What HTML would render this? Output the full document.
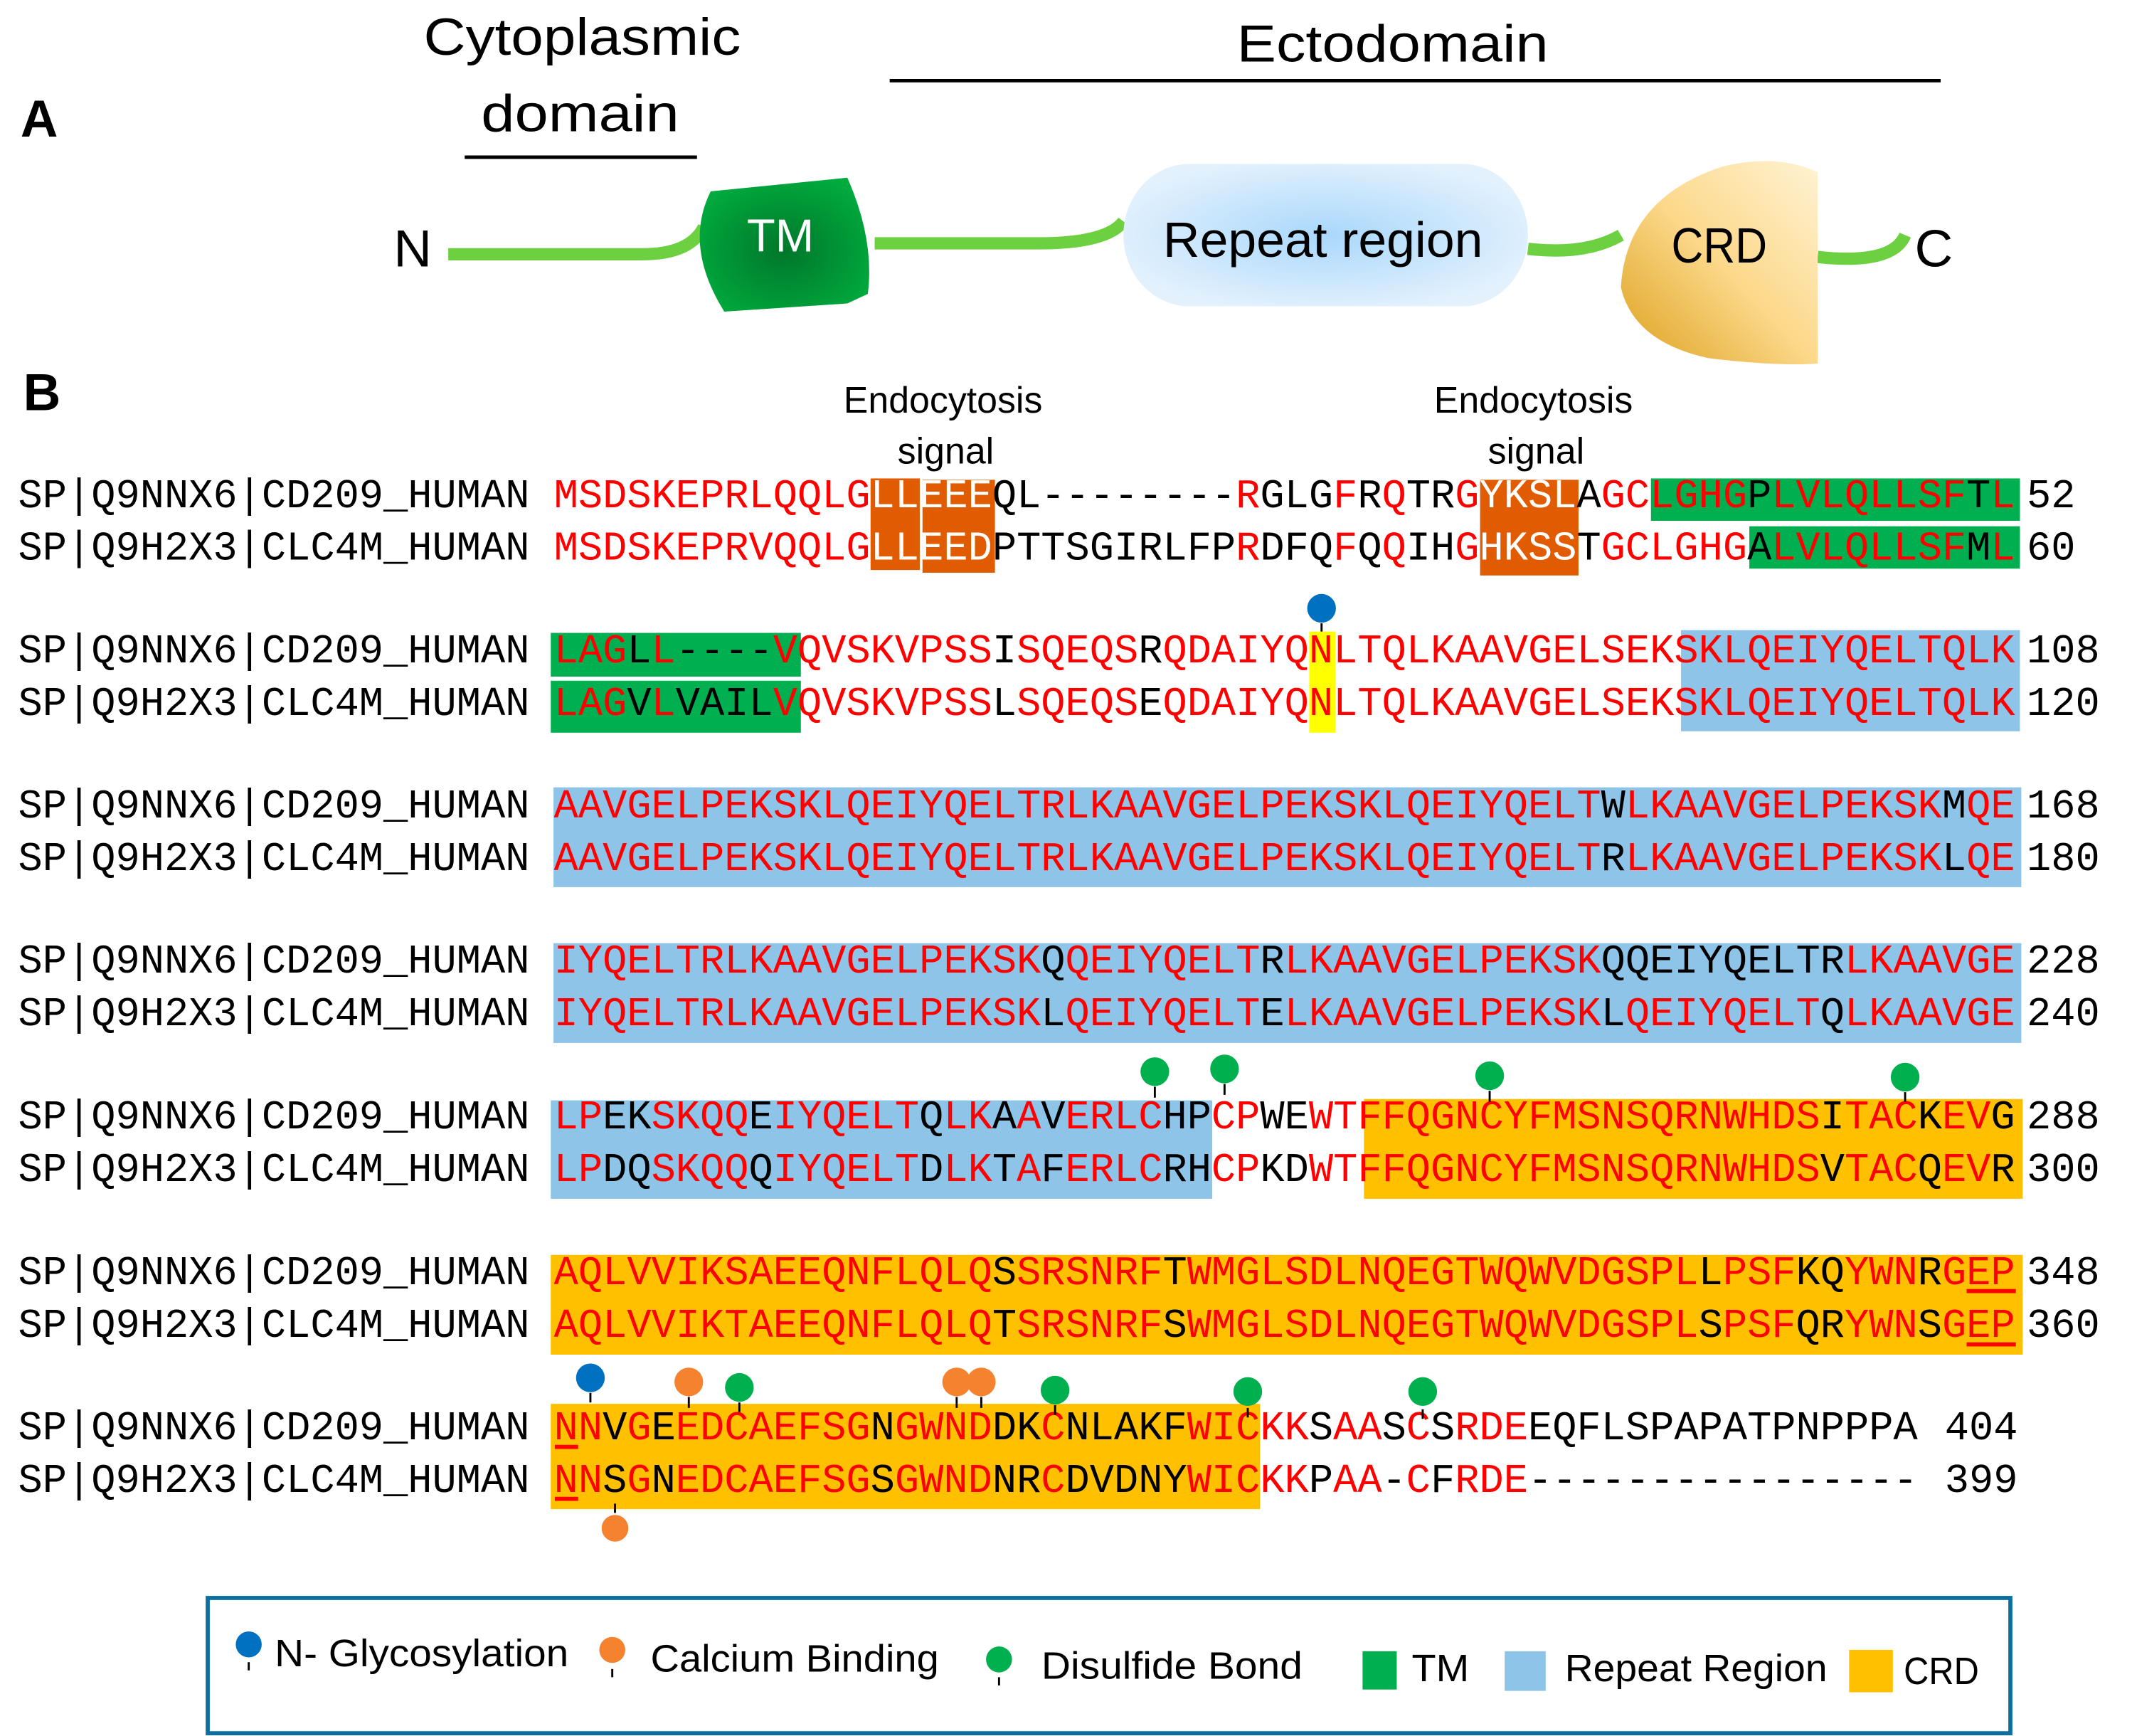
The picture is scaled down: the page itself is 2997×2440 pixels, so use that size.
<!DOCTYPE html>
<html><head><meta charset="utf-8"><style>
html,body{margin:0;padding:0;background:#fff;}
svg{display:block;}
.m{font-family:"Liberation Mono","DejaVu Sans Mono",monospace;font-size:29.7px;fill:#ff0000;}
.lb{font-family:"Liberation Mono","DejaVu Sans Mono",monospace;font-size:29.7px;fill:#000;}
.k{fill:#000;}
.w{fill:#fff;}
.s{font-family:"Liberation Sans",sans-serif;fill:#000;}
</style></head><body>
<svg width="2997" height="2440" viewBox="0 0 1560 1270" preserveAspectRatio="none" xmlns="http://www.w3.org/2000/svg">
<defs>
<radialGradient id="gTM" cx="0.5" cy="0.55" r="0.6"><stop offset="0" stop-color="#00772a"/><stop offset="1" stop-color="#00ab3e"/></radialGradient>
<radialGradient id="gRep" cx="0.5" cy="0.5" r="0.55"><stop offset="0" stop-color="#a9d8fb"/><stop offset="1" stop-color="#e3f1fd"/></radialGradient>
<linearGradient id="gCRD" x1="0" y1="1" x2="1" y2="0"><stop offset="0" stop-color="#dca01c"/><stop offset="0.5" stop-color="#fcd88a"/><stop offset="1" stop-color="#fff3d4"/></linearGradient>
</defs>

<!-- Part A -->
<text class="s" x="15" y="100" font-size="38" font-weight="bold">A</text>
<text class="s" x="310" y="40" font-size="38" textLength="232" lengthAdjust="spacingAndGlyphs">Cytoplasmic</text>
<text class="s" x="352" y="96" font-size="38" textLength="145" lengthAdjust="spacingAndGlyphs">domain</text>
<line x1="340" y1="115" x2="510" y2="115" stroke="#000" stroke-width="2.5"/>
<text class="s" x="905" y="45" font-size="38" textLength="228" lengthAdjust="spacingAndGlyphs">Ectodomain</text>
<line x1="651" y1="59" x2="1420" y2="59" stroke="#000" stroke-width="2.5"/>
<text class="s" x="288" y="195" font-size="38" textLength="28" lengthAdjust="spacingAndGlyphs">N</text>
<text class="s" x="1401" y="195" font-size="38" textLength="28" lengthAdjust="spacingAndGlyphs">C</text>
<!-- green linker lines -->
<path d="M328 186 L470 186 Q505 186 515 166" stroke="#6dd040" stroke-width="9" fill="none"/>
<path d="M640 178 L760 178 Q810 178 822 162" stroke="#6dd040" stroke-width="9" fill="none"/>
<path d="M1118 182 Q1160 187 1186 172" stroke="#6dd040" stroke-width="9" fill="none"/>
<path d="M1330 188 Q1385 194 1394 172" stroke="#6dd040" stroke-width="9" fill="none"/>
<!-- TM -->
<path d="M520 140 L620 130 Q640 175 635 215 L620 222 L530 228 Q500 180 520 140 Z" fill="url(#gTM)"/>
<text x="571" y="184" font-size="34" fill="#fff" font-family="Liberation Sans,sans-serif" text-anchor="middle">TM</text>
<!-- Repeat region -->
<rect x="822" y="120" width="296" height="104" rx="48" ry="52" fill="url(#gRep)"/>
<text class="s" x="968" y="188" font-size="36" text-anchor="middle" textLength="234" lengthAdjust="spacingAndGlyphs">Repeat region</text>
<!-- CRD -->
<path d="M1330 126 Q1300 112 1260 122 Q1190 145 1186 210 Q1195 250 1250 262 Q1300 268 1330 266 Z" fill="url(#gCRD)"/>
<text class="s" x="1258" y="192" font-size="36" text-anchor="middle" textLength="70" lengthAdjust="spacingAndGlyphs">CRD</text>

<!-- Part B -->
<text class="s" x="17" y="300" font-size="38" font-weight="bold">B</text>
<text class="s" x="690" y="302" font-size="27" text-anchor="middle">Endocytosis</text>
<text class="s" x="692" y="339" font-size="27" text-anchor="middle">signal</text>
<text class="s" x="1122" y="302" font-size="27" text-anchor="middle">Endocytosis</text>
<text class="s" x="1124" y="339" font-size="27" text-anchor="middle">signal</text>

<!-- highlight boxes -->
<rect x="637" y="350" width="36" height="67" fill="#e15b00"/>
<rect x="675" y="351" width="53" height="68" fill="#e15b00"/>
<rect x="1083" y="351" width="72" height="70" fill="#e15b00"/>
<rect x="1208" y="350" width="270" height="31" fill="#00b050"/>
<rect x="1280" y="385" width="198" height="31" fill="#00b050"/>

<rect x="403" y="463" width="183" height="32" fill="#00b050"/>
<rect x="403" y="498" width="183" height="38" fill="#00b050"/>
<rect x="1230" y="461" width="248" height="74" fill="#8dc4e8"/>
<rect x="958" y="462" width="19" height="74" fill="#ffff00"/>

<rect x="405" y="576" width="1074" height="73" fill="#8dc4e8"/>
<rect x="405" y="690" width="1074" height="73" fill="#8dc4e8"/>
<rect x="403" y="805" width="484" height="72" fill="#8dc4e8"/>
<rect x="998" y="804" width="482" height="73" fill="#ffc000"/>
<rect x="403" y="918" width="1077" height="73" fill="#ffc000"/>
<rect x="403" y="1027" width="519" height="77" fill="#ffc000"/>

<!-- labels -->
<g class="lb">
<text x="13.3" y="371">SP|Q9NNX6|CD209_HUMAN</text><text x="13.3" y="409.5">SP|Q9H2X3|CLC4M_HUMAN</text>
<text x="13.3" y="484.5">SP|Q9NNX6|CD209_HUMAN</text><text x="13.3" y="523">SP|Q9H2X3|CLC4M_HUMAN</text>
<text x="13.3" y="598">SP|Q9NNX6|CD209_HUMAN</text><text x="13.3" y="636.5">SP|Q9H2X3|CLC4M_HUMAN</text>
<text x="13.3" y="711.5">SP|Q9NNX6|CD209_HUMAN</text><text x="13.3" y="750">SP|Q9H2X3|CLC4M_HUMAN</text>
<text x="13.3" y="825.5">SP|Q9NNX6|CD209_HUMAN</text><text x="13.3" y="864">SP|Q9H2X3|CLC4M_HUMAN</text>
<text x="13.3" y="939.5">SP|Q9NNX6|CD209_HUMAN</text><text x="13.3" y="978">SP|Q9H2X3|CLC4M_HUMAN</text>
<text x="13.3" y="1053">SP|Q9NNX6|CD209_HUMAN</text><text x="13.3" y="1091.5">SP|Q9H2X3|CLC4M_HUMAN</text>
<text x="1483" y="371">52</text><text x="1483" y="409.5">60</text>
<text x="1483" y="484.5">108</text><text x="1483" y="523">120</text>
<text x="1483" y="598">168</text><text x="1483" y="636.5">180</text>
<text x="1483" y="711.5">228</text><text x="1483" y="750">240</text>
<text x="1483" y="825.5">288</text><text x="1483" y="864">300</text>
<text x="1483" y="939.5">348</text><text x="1483" y="978">360</text>
<text x="1423" y="1053">404</text><text x="1423" y="1091.5">399</text>
</g>

<!-- sequences -->
<g class="m">
<text x="405.3" y="371">MSDSKEPRLQQLG<tspan class="w">LLEEE</tspan><tspan class="k">QL--------</tspan>R<tspan class="k">GLG</tspan>F<tspan class="k">R</tspan>Q<tspan class="k">TR</tspan>G<tspan class="w">YKSL</tspan><tspan class="k">A</tspan>GCLGHG<tspan class="k">P</tspan>LVLQLLSF<tspan class="k">T</tspan>L</text>
<text x="405.3" y="409.5">MSDSKEPRVQQLG<tspan class="w">LLEED</tspan><tspan class="k">PTTSGIRLFP</tspan>R<tspan class="k">DFQ</tspan>F<tspan class="k">Q</tspan>Q<tspan class="k">IH</tspan>G<tspan class="w">HKSS</tspan><tspan class="k">T</tspan>GCLGHG<tspan class="k">A</tspan>LVLQLLSF<tspan class="k">M</tspan>L</text>

<text x="405.3" y="484.5">LAG<tspan class="k">L</tspan>L<tspan class="k">----</tspan>VQVSKVPSS<tspan class="k">I</tspan>SQEQS<tspan class="k">R</tspan>QDAIYQNLTQLKAAVGELSEKSKLQEIYQELTQLK</text>
<text x="405.3" y="523">LAG<tspan class="k">V</tspan>L<tspan class="k">VAIL</tspan>VQVSKVPSS<tspan class="k">L</tspan>SQEQS<tspan class="k">E</tspan>QDAIYQNLTQLKAAVGELSEKSKLQEIYQELTQLK</text>

<text x="405.3" y="598">AAVGELPEKSKLQEIYQELTRLKAAVGELPEKSKLQEIYQELT<tspan class="k">W</tspan>LKAAVGELPEKSK<tspan class="k">M</tspan>QE</text>
<text x="405.3" y="636.5">AAVGELPEKSKLQEIYQELTRLKAAVGELPEKSKLQEIYQELT<tspan class="k">R</tspan>LKAAVGELPEKSK<tspan class="k">L</tspan>QE</text>

<text x="405.3" y="711.5">IYQELTRLKAAVGELPEKSK<tspan class="k">Q</tspan>QEIYQELT<tspan class="k">R</tspan>LKAAVGELPEKSK<tspan class="k">QQEIYQELTR</tspan>LKAAVGE</text>
<text x="405.3" y="750">IYQELTRLKAAVGELPEKSK<tspan class="k">L</tspan>QEIYQELT<tspan class="k">E</tspan>LKAAVGELPEKSK<tspan class="k">L</tspan>QEIYQELT<tspan class="k">Q</tspan>LKAAVGE</text>

<text x="405.3" y="825.5">LP<tspan class="k">EK</tspan>SKQQ<tspan class="k">E</tspan>IYQELT<tspan class="k">Q</tspan>LK<tspan class="k">A</tspan>A<tspan class="k">V</tspan>ERLC<tspan class="k">HP</tspan>CP<tspan class="k">WE</tspan>WTFFQGNCYFMSNSQRNWHDS<tspan class="k">I</tspan>TAC<tspan class="k">K</tspan>EV<tspan class="k">G</tspan></text>
<text x="405.3" y="864">LP<tspan class="k">DQ</tspan>SKQQ<tspan class="k">Q</tspan>IYQELT<tspan class="k">D</tspan>LK<tspan class="k">T</tspan>A<tspan class="k">F</tspan>ERLC<tspan class="k">RH</tspan>CP<tspan class="k">KD</tspan>WTFFQGNCYFMSNSQRNWHDS<tspan class="k">V</tspan>TAC<tspan class="k">Q</tspan>EV<tspan class="k">R</tspan></text>

<text x="405.3" y="939.5">AQLVVIKSAEEQNFLQLQ<tspan class="k">S</tspan>SRSNRF<tspan class="k">T</tspan>WMGLSDLNQEGTWQWVDGSPL<tspan class="k">L</tspan>PSF<tspan class="k">KQ</tspan>YWN<tspan class="k">R</tspan>GEP</text>
<text x="405.3" y="978">AQLVVIKTAEEQNFLQLQ<tspan class="k">T</tspan>SRSNRF<tspan class="k">S</tspan>WMGLSDLNQEGTWQWVDGSPL<tspan class="k">S</tspan>PSF<tspan class="k">QR</tspan>YWN<tspan class="k">S</tspan>GEP</text>

<text x="405.3" y="1053">NN<tspan class="k">V</tspan>G<tspan class="k">E</tspan>EDCAEFSG<tspan class="k">N</tspan>GWND<tspan class="k">DK</tspan>C<tspan class="k">NLAKF</tspan>WICKK<tspan class="k">S</tspan>AA<tspan class="k">S</tspan>C<tspan class="k">S</tspan>RDE<tspan class="k">EQFLSPAPATPNPPPA</tspan></text>
<text x="405.3" y="1091.5">NN<tspan class="k">S</tspan>G<tspan class="k">N</tspan>EDCAEFSG<tspan class="k">S</tspan>GWND<tspan class="k">NR</tspan>C<tspan class="k">DVDNY</tspan>WICKK<tspan class="k">P</tspan>AA<tspan class="k">-</tspan>C<tspan class="k">F</tspan>RDE<tspan class="k">----------------</tspan></text>
</g>

<!-- underlines -->
<rect x="1439" y="943" width="36" height="3" fill="#ff0000"/>
<rect x="1439" y="982" width="36" height="3" fill="#ff0000"/>
<rect x="406" y="1057" width="17" height="3" fill="#ff0000"/>
<rect x="406" y="1095" width="17" height="3" fill="#ff0000"/>

<!-- pins -->
<g stroke="#000" stroke-width="1.5">
<line x1="967" y1="456" x2="967" y2="462"/>
<line x1="845" y1="795" x2="845" y2="803"/>
<line x1="896" y1="793" x2="896" y2="801"/>
<line x1="1090" y1="798" x2="1090" y2="806"/>
<line x1="1394" y1="799" x2="1394" y2="806"/>
<line x1="432" y1="1019" x2="432" y2="1026"/>
<line x1="504" y1="1022" x2="504" y2="1030"/>
<line x1="541" y1="1026" x2="541" y2="1033"/>
<line x1="700" y1="1022" x2="700" y2="1030"/>
<line x1="718" y1="1022" x2="718" y2="1030"/>
<line x1="772" y1="1028" x2="772" y2="1035"/>
<line x1="913" y1="1030" x2="913" y2="1037"/>
<line x1="1041" y1="1031" x2="1041" y2="1038"/>
<line x1="450" y1="1100" x2="450" y2="1107"/>
</g>
<circle cx="967" cy="445" r="10.5" fill="#0070c0"/>
<circle cx="845" cy="784" r="10.5" fill="#00b04f"/>
<circle cx="896" cy="782" r="10.5" fill="#00b04f"/>
<circle cx="1090" cy="787" r="10.5" fill="#00b04f"/>
<circle cx="1394" cy="788" r="10.5" fill="#00b04f"/>
<circle cx="432" cy="1008" r="10.5" fill="#0070c0"/>
<circle cx="504" cy="1011" r="10.5" fill="#f5822e"/>
<circle cx="541" cy="1015" r="10.5" fill="#00b04f"/>
<circle cx="700" cy="1011" r="10.5" fill="#f5822e"/>
<circle cx="718" cy="1011" r="10.5" fill="#f5822e"/>
<circle cx="772" cy="1017" r="10.5" fill="#00b04f"/>
<circle cx="913" cy="1018" r="10.5" fill="#00b04f"/>
<circle cx="1041" cy="1018" r="10.5" fill="#00b04f"/>
<circle cx="450" cy="1118" r="10.5" fill="#f5822e" stroke="#fff" stroke-width="1.5"/>

<!-- legend -->
<rect x="152" y="1169" width="1319" height="99" fill="#fff" stroke="#0d6fa0" stroke-width="3"/>
<circle cx="182" cy="1203" r="9.5" fill="#0070c0"/><line x1="182" y1="1216" x2="182" y2="1222" stroke="#000" stroke-width="1.5"/>
<text class="s" x="201" y="1219" font-size="28" textLength="215" lengthAdjust="spacingAndGlyphs">N- Glycosylation</text>
<circle cx="448" cy="1207" r="9.5" fill="#f5822e"/><line x1="448" y1="1221" x2="448" y2="1227" stroke="#000" stroke-width="1.5"/>
<text class="s" x="476" y="1223" font-size="28" textLength="211" lengthAdjust="spacingAndGlyphs">Calcium Binding</text>
<circle cx="731" cy="1214" r="9.5" fill="#00b04f"/><line x1="731" y1="1227" x2="731" y2="1233" stroke="#000" stroke-width="1.5"/>
<text class="s" x="762" y="1228" font-size="28" textLength="191" lengthAdjust="spacingAndGlyphs">Disulfide Bond</text>
<rect x="997" y="1208" width="25" height="28" fill="#00b050"/>
<text class="s" x="1033" y="1230" font-size="28" textLength="42" lengthAdjust="spacingAndGlyphs">TM</text>
<rect x="1101" y="1208" width="30" height="29" fill="#8dc4e8"/>
<text class="s" x="1145" y="1230" font-size="28" textLength="192" lengthAdjust="spacingAndGlyphs">Repeat Region</text>
<rect x="1353" y="1207" width="32" height="31" fill="#ffc000"/>
<text class="s" x="1393" y="1232" font-size="28" textLength="55" lengthAdjust="spacingAndGlyphs">CRD</text>
</svg>
</body></html>
